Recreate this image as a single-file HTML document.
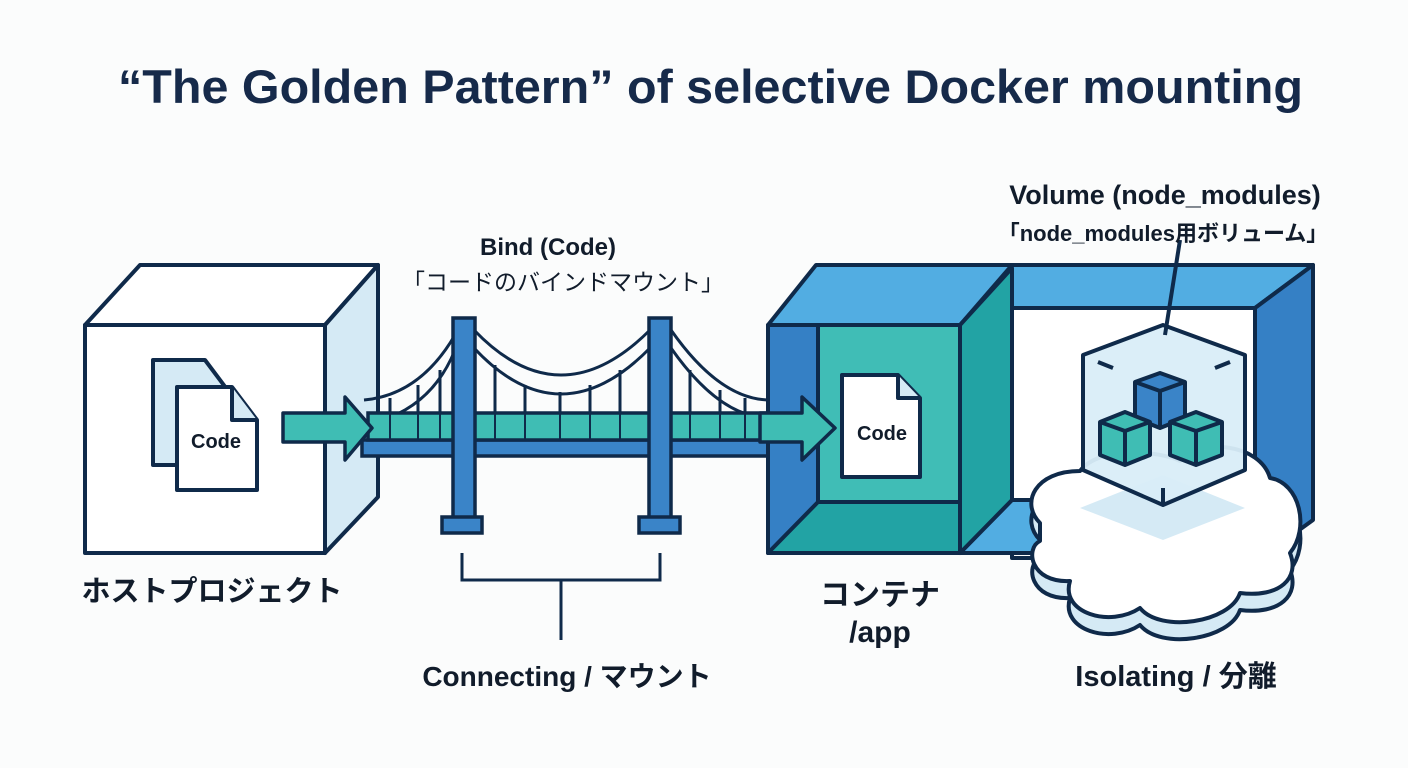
<!DOCTYPE html>
<html><head><meta charset="utf-8"><style>
html,body{margin:0;padding:0;background:#fbfcfc;}
svg{display:block}
text{font-family:"Liberation Sans","Noto Sans CJK JP",sans-serif;fill:#111c2b}
</style></head><body>
<svg width="1408" height="768" viewBox="0 0 1408 768" xmlns="http://www.w3.org/2000/svg">
<rect width="1408" height="768" fill="#fbfcfc"/>
<text x="118" y="103" font-size="47" font-weight="bold" textLength="1185" lengthAdjust="spacingAndGlyphs" style="fill:#162a4a">“The Golden Pattern” of selective Docker mounting</text>

<g stroke="#0f2a4a" stroke-width="4" stroke-linejoin="round">
<polygon points="85,325 140,265 378,265 325,325" fill="#fff"/>
<polygon points="325,325 378,265 378,497 325,553" fill="#d5eaf5"/>
<rect x="85" y="325" width="240" height="228" fill="#fff"/>
<path d="M153,360 H205 L232,396 V465 H153 Z" fill="#d5eaf5"/>
<path d="M177,387 H232 L257,420 V490 H177 Z" fill="#fff"/>
<path d="M232,387 V420 H257" fill="#d5eaf5"/>
</g>
<text x="216" y="448" text-anchor="middle" font-size="20" font-weight="bold">Code</text>

<g stroke="#0f2a4a" stroke-width="3" fill="none">
<path d="M364,400 Q420,395 455,335"/>
<path d="M364,425 Q430,412 455,350"/>
<path d="M474,330 Q560,420 650,330"/>
<path d="M474,348 Q560,440 650,348"/>
<path d="M671,330 Q720,400 770,400"/>
<path d="M671,348 Q720,418 770,418"/>
<path d="M390,398V412 M418,385V412 M440,370V412 M495,365V412 M525,385V412 M560,392V412 M590,385V412 M620,370V412 M690,370V412 M720,390V412 M745,398V412"/>
</g>
<g stroke="#0f2a4a" stroke-width="3.5">
<rect x="362" y="440" width="410" height="16" fill="#3a84c8"/>
<rect x="368" y="413" width="404" height="27" fill="#3fbdb4"/>
</g>
<g stroke="#0f2a4a" stroke-width="2">
<path d="M390,413V440 M418,413V440 M440,413V440 M495,413V440 M525,413V440 M560,413V440 M590,413V440 M620,413V440 M690,413V440 M720,413V440 M745,413V440"/>
</g>
<g stroke="#0f2a4a" stroke-width="3.5" fill="#3a84c8">
<rect x="453" y="318" width="22" height="200"/>
<rect x="442" y="517" width="40" height="16"/>
<rect x="649" y="318" width="22" height="200"/>
<rect x="639" y="517" width="41" height="16"/>
</g>
<g stroke="#0f2a4a" stroke-width="3.5" fill="#3fbdb4" stroke-linejoin="round">
<polygon points="283,413 345,413 345,397 372,428 345,460 345,442 283,442"/>
</g>
<path d="M462,553V580H660V553 M561,580V640" stroke="#0f2a4a" stroke-width="3" fill="none"/>

<!-- container -->
<g stroke="#0f2a4a" stroke-width="4" stroke-linejoin="round">
<polygon points="1010,265 1313,265 1255,308 1010,308" fill="#52ade2"/>
<polygon points="1255,308 1313,265 1313,520 1255,562" fill="#3580c5"/>
<rect x="1012" y="308" width="243" height="250" fill="#fff"/>
<polygon points="960,553 1012,500 1060,500 1060,553" fill="#52ade2"/>
<polygon points="768,325 816,265 1012,265 960,325" fill="#52ade2"/>
<rect x="768" y="325" width="192" height="228" fill="#3580c5"/>
<rect x="818" y="325" width="142" height="177" fill="#40bdb6"/>
<polygon points="768,553 818,502 960,502 960,553" fill="#22a3a4"/>
<polygon points="960,325 1012,268 1012,500 960,553" fill="#22a3a4"/>
<path d="M842,375 H898 L920,398 V477 H842 Z" fill="#fff"/>
<path d="M898,375 V398 H920" fill="#d5eaf5"/>
</g>
<text x="882" y="440" text-anchor="middle" font-size="20" font-weight="bold">Code</text>
<g stroke="#0f2a4a" stroke-width="3.5" fill="#3fbdb4" stroke-linejoin="round">
<polygon points="760,413 802,413 802,397 835,428 802,460 802,442 760,442"/>
</g>

<!-- cloud -->
<g stroke="#0f2a4a" stroke-width="4" stroke-linejoin="round">
<path d="M1040,540 C1020,520 1035,488 1080,488 C1100,462 1160,468 1180,478 C1200,455 1260,460 1270,495 C1300,500 1310,545 1290,570 C1300,595 1280,615 1240,610 C1230,640 1160,650 1140,625 C1110,645 1060,630 1070,598 C1030,600 1025,565 1040,558 Z" fill="#d5eaf5"/>
<path d="M1040,523 C1020,503 1035,471 1080,471 C1100,445 1160,451 1180,461 C1200,438 1260,443 1270,478 C1300,483 1310,528 1290,553 C1300,578 1280,598 1240,593 C1230,623 1160,633 1140,608 C1110,628 1060,613 1070,581 C1030,583 1025,548 1040,541 Z" fill="#fff"/>
</g>
<polygon points="1163,475 1245,508 1163,540 1080,508" fill="#d5eaf5"/>
<g stroke="#0f2a4a" stroke-width="4" stroke-linejoin="round">
<polygon points="1163,325 1245,355 1245,470 1163,505 1083,470 1083,355" fill="#d9edf8" fill-opacity="0.95"/>
<path d="M1098,362 L1113,368 M1230,362 L1215,368 M1163,488 V505" fill="none"/>
<path d="M1180,240 L1165,335" fill="none"/>
<polygon points="1135,382 1160,373 1185,382 1185,418 1160,428 1135,418" fill="#3a84c8"/>
<path d="M1135,382 L1160,391 L1185,382 M1160,391V428" fill="none"/>
<polygon points="1100,422 1125,412 1150,422 1150,455 1125,465 1100,455" fill="#3fbdb4"/>
<path d="M1100,422 L1125,431 L1150,422 M1125,431V465" fill="none"/>
<polygon points="1170,422 1196,412 1222,422 1222,455 1196,465 1170,455" fill="#3fbdb4"/>
<path d="M1170,422 L1196,431 L1222,422 M1196,431V465" fill="none"/>
</g>

<text x="548" y="255" text-anchor="middle" font-size="24" font-weight="bold">Bind (Code)</text>
<text x="563" y="290" text-anchor="middle" font-size="23">「コードのバインドマウント」</text>
<text x="1165" y="204" text-anchor="middle" font-size="27" font-weight="bold">Volume (node_modules)</text>
<text x="1163" y="241" text-anchor="middle" font-size="22" font-weight="bold">「node_modules用ボリューム」</text>
<text x="212" y="601" text-anchor="middle" font-size="29" font-weight="bold">ホストプロジェクト</text>
<text x="880" y="605" text-anchor="middle" font-size="30" font-weight="bold">コンテナ</text>
<text x="880" y="642" text-anchor="middle" font-size="30" font-weight="bold">/app</text>
<text x="567" y="686" text-anchor="middle" font-size="28" font-weight="bold">Connecting / マウント</text>
<text x="1176" y="686" text-anchor="middle" font-size="29" font-weight="bold">Isolating / 分離</text>
</svg>
</body></html>
